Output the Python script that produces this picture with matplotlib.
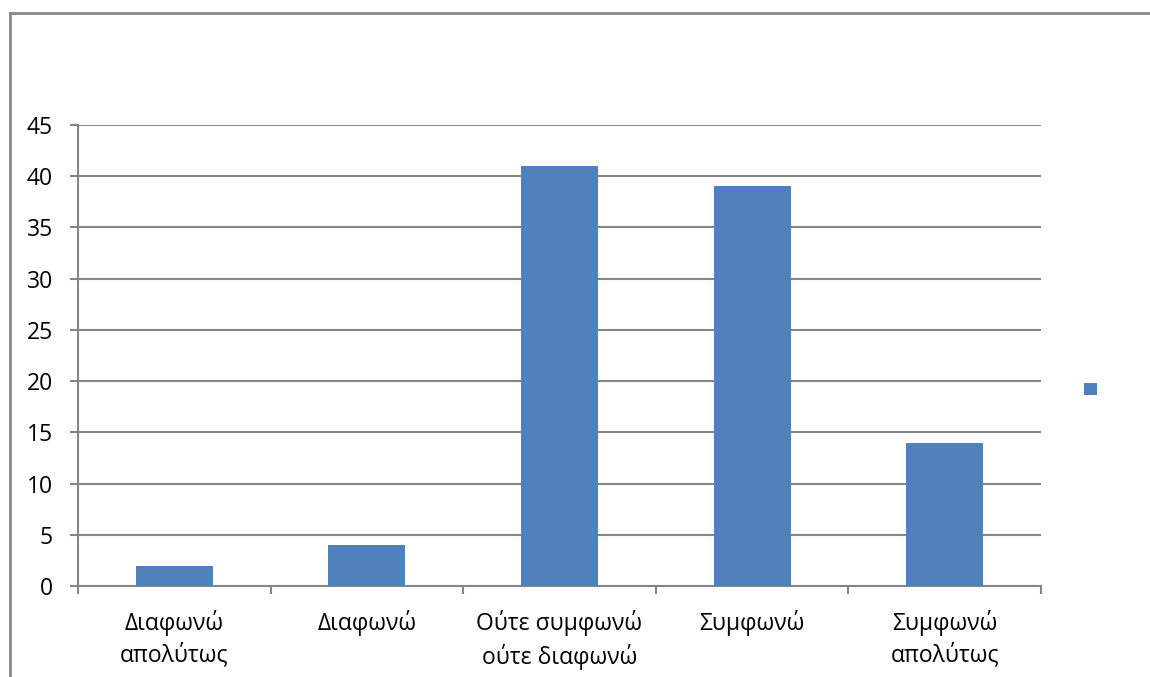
import matplotlib.pyplot as plt
from matplotlib.lines import Line2D
from matplotlib.patches import Patch

categories = ['Διαφωνώ\nαπολύτως', 'Διαφωνώ', 'Ούτε συμφωνώ\nούτε διαφωνώ',
              'Συμφωνώ', 'Συμφωνώ\nαπολύτως']
values = [2, 4, 41, 39, 14]
yticks = [0, 5, 10, 15, 20, 25, 30, 35, 40, 45]

bar_color = '#4F81BD'
grid_color = '#868686'

plt.rcParams['font.family'] = ['Open Sans', 'DejaVu Sans']

W, H = 1150, 677
fig = plt.figure(figsize=(W / 100, H / 100), dpi=100)
ax = fig.add_axes([78 / W, 1 - 586 / H, (1041 - 78) / W, (586 - 125) / H])

x = range(len(values))
ax.bar(x, values, width=0.4, color=bar_color, zorder=3)

ax.set_xlim(-0.5, len(values) - 0.5)
ax.set_ylim(0, 45)
ax.set_yticks(yticks)
ax.yaxis.grid(True, color=grid_color, linewidth=1.5, zorder=0)

# category ticks sit between the bars
ax.set_xticks([i - 0.5 for i in range(len(values) + 1)], minor=False)
ax.set_xticklabels([])
ax.set_xticks(list(x), minor=True)
ax.set_xticklabels(categories, minor=True, fontsize=16.5, linespacing=1.4)
ax.tick_params(axis='x', which='minor', length=0, pad=17)
ax.tick_params(axis='x', which='major', length=6, width=1.5, color=grid_color)
ax.tick_params(axis='y', length=6, width=1.5, color=grid_color, labelsize=16.5, pad=12)

for side in ['top', 'right']:
    ax.spines[side].set_visible(False)
for side in ['left', 'bottom']:
    ax.spines[side].set_color(grid_color)
    ax.spines[side].set_linewidth(1.5)

# legend with the single (unnamed) series
ax.legend(handles=[Patch(facecolor=bar_color)], labels=[''],
          loc='center left', bbox_to_anchor=(1071 / W, 1 - 390 / H),
          bbox_transform=fig.transFigure, frameon=False,
          handlelength=1.0, handleheight=1.0, handletextpad=0)

# chart frame (left and top edges)
fig.add_artist(Line2D([9.5 / W, 9.5 / W], [0, 1 - 13 / H], transform=fig.transFigure,
                      color='#878787', linewidth=2))
fig.add_artist(Line2D([9.5 / W, 1], [1 - 13 / H, 1 - 13 / H], transform=fig.transFigure,
                      color='#878787', linewidth=2))

fig.savefig('out.png', dpi=100)
